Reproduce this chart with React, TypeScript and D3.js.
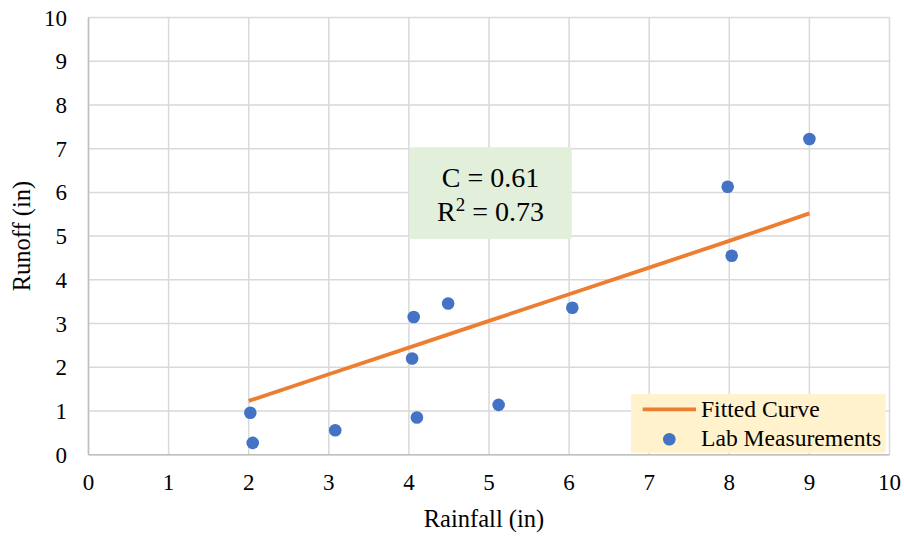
import React from "react";
import * as d3 from "d3";

const rainfall = [2.02, 2.05, 3.08, 4.06, 4.49, 4.04, 4.1, 5.12, 6.04, 7.98, 8.03, 9.0];
const runoff = [0.96, 0.27, 0.56, 3.15, 3.46, 2.2, 0.85, 1.14, 3.36, 6.13, 4.55, 7.22];
const fitX = [2, 3, 4, 5, 6, 7, 8, 9];
const fitY = [1.23, 1.84, 2.45, 3.06, 3.67, 4.28, 4.89, 5.52];
const xTicks = [0, 1, 2, 3, 4, 5, 6, 7, 8, 9, 10];
const yTicks = [0, 1, 2, 3, 4, 5, 6, 7, 8, 9, 10];
const annotation = ["C = 0.61", "R", "2", " = 0.73"];
const legendLabels = ["Fitted Curve", "Lab Measurements"];

const W = 904, H = 536;
const L = 88.5, R = 889.5, T = 17.5, B = 454.7;
const FONT = '"Liberation Serif", "Times New Roman", Times, "DejaVu Serif", serif';

export default function App() {
  const x = d3.scaleLinear().domain([0, 10]).range([L, R]);
  const y = d3.scaleLinear().domain([0, 10]).range([B, T]);
  const line = d3.line<number>().x((d, i) => x(fitX[i])).y((d) => y(d));
  return (
    <svg width={W} height={H} style={{ position: "absolute", left: 0, top: 0, background: "#fff", fontFamily: FONT }}>
      {xTicks.map((t) => (
        <line key={"gx" + t} x1={x(t)} x2={x(t)} y1={T} y2={B} stroke="#d9d9d9" strokeWidth={1.5} />
      ))}
      {yTicks.map((t) => (
        <line key={"gy" + t} x1={L} x2={R} y1={y(t)} y2={y(t)} stroke="#d9d9d9" strokeWidth={1.5} />
      ))}
      <line x1={L} x2={L} y1={T} y2={B} stroke="#bfbfbf" strokeWidth={1.5} />
      <line x1={L} x2={R} y1={B} y2={B} stroke="#bfbfbf" strokeWidth={1.5} />
      {xTicks.map((t) => (
        <text key={"tx" + t} x={x(t)} y={490} textAnchor="middle" fontSize={23} fill="#000">{t}</text>
      ))}
      {yTicks.map((t) => (
        <text key={"ty" + t} x={67} y={y(t) + 8} textAnchor="end" fontSize={23} fill="#000">{t}</text>
      ))}
      <text x={(L + R) / 2 - 5} y={527} textAnchor="middle" fontSize={24.5} fill="#000">Rainfall (in)</text>
      <text transform={`translate(30, ${(T + B) / 2}) rotate(-90)`} textAnchor="middle" fontSize={24.5} fill="#000">Runoff (in)</text>

      <rect x={409.3} y={147.3} width={162.4} height={91.7} fill="#e2efda" />
      <text x={490.5} y={187} textAnchor="middle" fontSize={28} fill="#000">{annotation[0]}</text>
      <text x={490.5} y={221} textAnchor="middle" fontSize={28} fill="#000">
        {annotation[1]}
        <tspan fontSize={19} dy={-10}>{annotation[2]}</tspan>
        <tspan dy={10}>{annotation[3]}</tspan>
      </text>

      <path d={line(fitY) || ""} fill="none" stroke="#ed7d31" strokeWidth={3.8} />
      {rainfall.map((r, i) => (
        <circle key={"p" + i} cx={x(r)} cy={y(runoff[i])} r={6.3} fill="#4472c4" />
      ))}

      <rect x={631} y={394} width={254.7} height={58.7} fill="#fff2cc" />
      <line x1={642.7} x2={696} y1={409.3} y2={409.3} stroke="#ed7d31" strokeWidth={3.8} />
      <text x={701} y={416.5} fontSize={23.6} fill="#000">{legendLabels[0]}</text>
      <circle cx={669.3} cy={439.3} r={6.3} fill="#4472c4" />
      <text x={701} y={446} fontSize={23.6} fill="#000">{legendLabels[1]}</text>
    </svg>
  );
}
